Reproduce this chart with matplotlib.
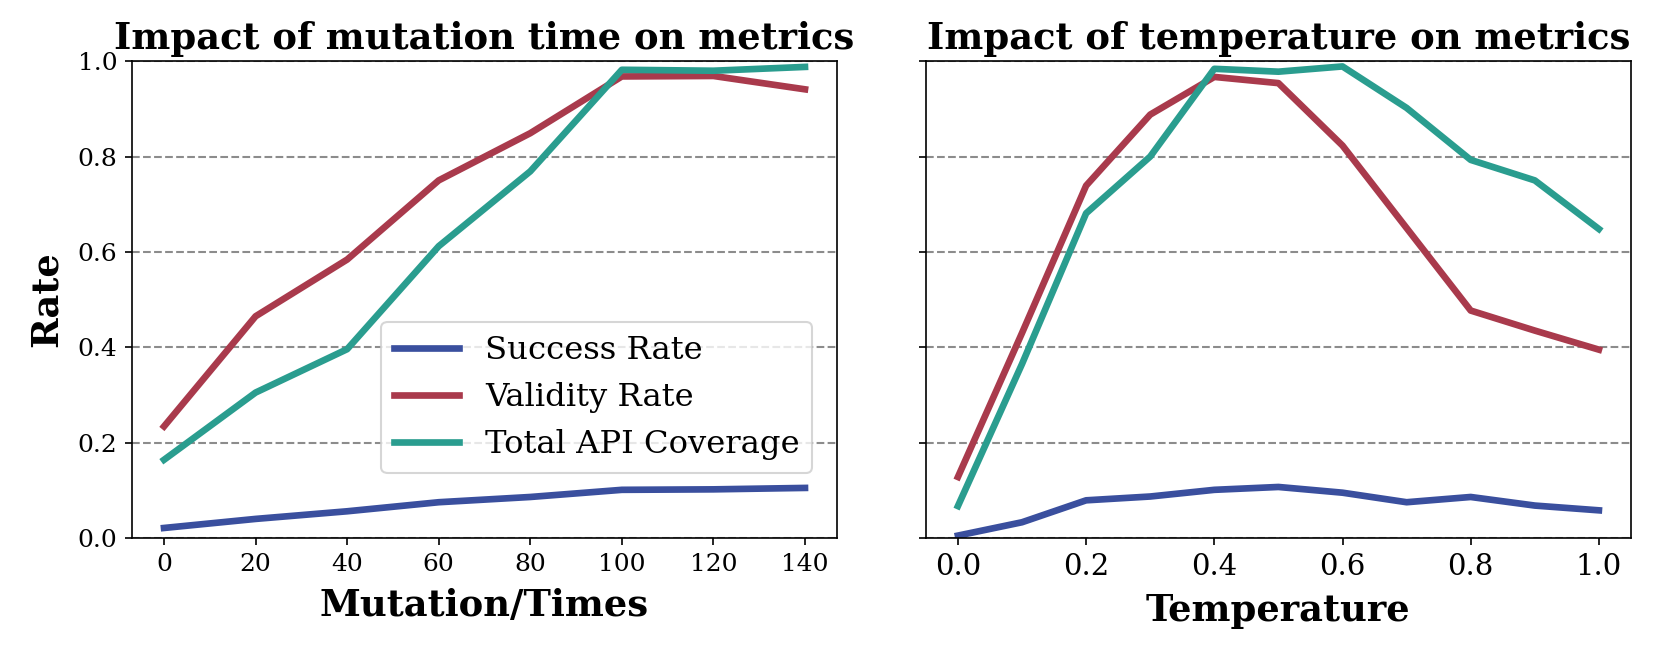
import matplotlib
matplotlib.use("Agg")
import matplotlib.pyplot as plt

plt.rcParams["font.family"] = ["DejaVu Serif"]

# ── Data ──────────────────────────────────────────────────────────────
mutation_times = [0, 20, 40, 60, 80, 100, 120, 140]
mut_success = [0.021, 0.040, 0.056, 0.075, 0.086, 0.101, 0.102, 0.105]
mut_validity = [0.234, 0.465, 0.584, 0.750, 0.849, 0.968, 0.969, 0.941]
mut_coverage = [0.164, 0.305, 0.396, 0.612, 0.769, 0.982, 0.980, 0.988]

temperatures = [0.0, 0.1, 0.2, 0.3, 0.4, 0.5, 0.6, 0.7, 0.8, 0.9, 1.0]
temp_success = [0.005, 0.033, 0.079, 0.087, 0.101, 0.107, 0.095, 0.075, 0.086, 0.068, 0.058]
temp_validity = [0.128, 0.430, 0.739, 0.888, 0.967, 0.954, 0.823, 0.650, 0.477, 0.435, 0.395]
temp_coverage = [0.067, 0.365, 0.681, 0.800, 0.984, 0.978, 0.989, 0.902, 0.793, 0.750, 0.648]

labels = ["Success Rate", "Validity Rate", "Total API Coverage"]
COLORS = ["#3a4f9e", "#a93a4c", "#2a9d8f"]
LW = 3.2
BIG = 17.7

fig, (ax1, ax2) = plt.subplots(1, 2, figsize=(1660 / 150, 651 / 150), dpi=150, sharey=True)
fig.subplots_adjust(left=0.0795, right=0.9825, bottom=0.1736, top=0.906, wspace=0.126)

# ── Left: mutation time ───────────────────────────────────────────────
for ys, c, lab in zip([mut_success, mut_validity, mut_coverage], COLORS, labels):
    ax1.plot(mutation_times, ys, color=c, linewidth=LW, label=lab)
ax1.set_title("Impact of mutation time on metrics", fontsize=BIG, fontweight="bold")
ax1.set_xlabel("Mutation/Times", fontsize=BIG, fontweight="bold", labelpad=6)
ax1.set_ylabel("Rate", fontsize=BIG, fontweight="bold", labelpad=6)
ax1.set_ylim(0, 1)
ax1.set_xticks(mutation_times)
ax1.tick_params(labelsize=12)
ax1.grid(axis="y", linestyle="--", color="#8c8c8c", linewidth=1)
ax1.legend(loc="lower right", bbox_to_anchor=(0.965, 0.136), borderaxespad=0,
           fontsize=15.5)

# ── Right: temperature ────────────────────────────────────────────────
for ys, c, lab in zip([temp_success, temp_validity, temp_coverage], COLORS, labels):
    ax2.plot(temperatures, ys, color=c, linewidth=LW, label=lab)
ax2.set_title("Impact of temperature on metrics", fontsize=BIG, fontweight="bold")
ax2.set_xlabel("Temperature", fontsize=BIG, fontweight="bold", labelpad=6)
ax2.set_xticks([0.0, 0.2, 0.4, 0.6, 0.8, 1.0])
ax2.tick_params(axis="x", labelsize=14)
ax2.tick_params(axis="y", labelsize=12)
ax2.grid(axis="y", linestyle="--", color="#8c8c8c", linewidth=1)

fig.savefig("out.png", dpi=150)
